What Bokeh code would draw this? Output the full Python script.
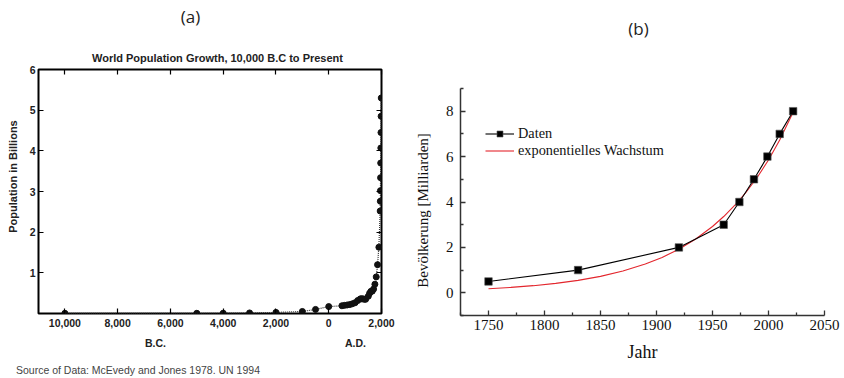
from bokeh.plotting import figure
from bokeh.models import Range1d, FixedTicker, LinearAxis, Legend, LegendItem
from bokeh.layouts import row, column
from bokeh.embed import file_html
from bokeh.resources import INLINE

# ---------------- data: panel (a) ----------------
years_a = [-10000, -5000, -4000, -3000, -2000, -1000, -500, 0,
           500, 600, 700, 800, 900, 1000, 1100, 1200, 1250, 1300, 1350,
           1400, 1500, 1550, 1600, 1650, 1700, 1750, 1800, 1850, 1900,
           1950, 1955, 1960, 1965, 1970, 1975, 1980, 1985, 1990]
pop_a = [0.004, 0.005, 0.007, 0.014, 0.027, 0.05, 0.1, 0.17,
         0.19, 0.2, 0.21, 0.22, 0.24, 0.265, 0.32, 0.36, 0.36, 0.36, 0.35,
         0.35, 0.425, 0.5, 0.545, 0.55, 0.6, 0.72, 0.9, 1.2, 1.63,
         2.52, 2.76, 3.02, 3.34, 3.7, 4.07, 4.45, 4.85, 5.3]
xticks_a = [-10000, -8000, -6000, -4000, -2000, 0, 2000]
xtick_labels_a = ["10,000", "8,000", "6,000", "4,000", "2,000", "0", "2,000"]
yticks_a = [1, 2, 3, 4, 5, 6]
era_pos_a = [-6566, 1014]
era_labels_a = ["B.C.", "A.D."]

# ---------------- data: panel (b) ----------------
years_b = [1750, 1830, 1920, 1960, 1974, 1987, 1999, 2010, 2022]
pop_b = [0.5, 1, 2, 3, 4, 5, 6, 7, 8]
fit_years = [1750, 1770, 1790, 1810, 1830, 1850, 1870, 1890, 1905, 1920,
             1935, 1950, 1960, 1970, 1980, 1990, 2000, 2010, 2022]
fit_pop = [0.18, 0.238, 0.314, 0.415, 0.548, 0.725, 0.958, 1.265, 1.56, 1.92,
           2.37, 2.92, 3.36, 3.86, 4.43, 5.09, 5.85, 6.73, 7.95]
xticks_b = [1750, 1800, 1850, 1900, 1950, 2000, 2050]
xminor_b = [1725, 1775, 1825, 1875, 1925, 1975, 2025]
yticks_b = [0, 2, 4, 6, 8]
yminor_b = [-1, 1, 3, 5, 7, 9]

H = 378
SANS = "Liberation Sans"
SERIF = "Liberation Serif"


def text_axis(p, side, pos, texts, font, size, style, color, standoff, vertical=False):
    """A tick-less axis that only carries texts at data positions."""
    ax = LinearAxis(ticker=FixedTicker(ticks=list(pos), minor_ticks=[]),
                    major_label_overrides=dict(zip(pos, texts)),
                    axis_line_color=None, major_tick_line_color=None,
                    minor_tick_line_color=None, major_tick_in=0, major_tick_out=0,
                    major_label_standoff=standoff, major_label_text_font=font,
                    major_label_text_font_size=size, major_label_text_font_style=style,
                    major_label_text_color=color)
    if vertical:
        ax.major_label_orientation = "vertical"
    p.add_layout(ax, side)


# ================= panel (a) =================
p1 = figure(width=412, height=H, x_range=Range1d(-11000, 2000), y_range=Range1d(0, 6),
            output_backend="svg", toolbar_location=None, title=None,
            min_border_left=38, min_border_right=31, min_border_top=69, min_border_bottom=65)
p1.grid.visible = False
p1.outline_line_color = "black"
p1.outline_line_width = 2


def style_a(ax, ticks, labels=True):
    ax.ticker = FixedTicker(ticks=ticks, minor_ticks=[])
    ax.axis_line_color = None
    ax.major_tick_in = 5
    ax.major_tick_out = 0
    ax.major_tick_line_color = "black"
    ax.major_tick_line_width = 1.2
    ax.minor_tick_line_color = None
    ax.major_label_text_font = SANS
    ax.major_label_text_font_style = "bold"
    if labels:
        ax.major_label_text_font_size = "10.5px"
        ax.major_label_text_color = "#222"
        ax.major_label_standoff = 5
    else:
        ax.major_label_text_font_size = "1px"
        ax.major_label_text_color = None
        ax.major_label_standoff = 0


style_a(p1.xaxis[0], xticks_a)
p1.xaxis[0].major_label_overrides = {t: l for t, l in zip(xticks_a, xtick_labels_a)}
style_a(p1.yaxis[0], yticks_a)
p1.yaxis[0].major_label_standoff = 3

top_ax = LinearAxis()
style_a(top_ax, xticks_a, labels=False)
p1.add_layout(top_ax, "above")
right_ax = LinearAxis()
style_a(right_ax, yticks_a[:5], labels=False)
p1.add_layout(right_ax, "right")

p1.line(years_a, pop_a, line_color="#333", line_width=1.2, line_dash="1 1")
p1.scatter(years_a, pop_a, size=6, marker="circle", fill_color="#111", line_color="#111")

# texts around panel (a), carried by tick-less axes
text_axis(p1, "above", [-4216], ["World Population Growth, 10,000 B.C to Present"],
          SANS, "11px", "bold", "#222", 6)
text_axis(p1, "above", [-5239], ["(a)"], "Open Sans", "17px", "normal", "#222", 21)
text_axis(p1, "left", [3.369], ["Population in Billions"], SANS, "11px", "bold", "#222", 7,
          vertical=True)
text_axis(p1, "below", era_pos_a, era_labels_a, SANS, "10.5px", "bold", "#222", 7)
text_axis(p1, "below", [-7229], ["Source of Data: McEvedy and Jones 1978. UN 1994"],
          SANS, "10.5px", "normal", "#444", 12)

# ================= panel (b) =================
p2 = figure(width=432, height=H, x_range=Range1d(1725, 2050), y_range=Range1d(-1, 9),
            output_backend="svg", toolbar_location=None, title=None,
            min_border_left=48, min_border_right=20, min_border_top=88, min_border_bottom=63)
p2.grid.visible = False
p2.outline_line_color = None


def style_b(ax, ticks, minor):
    ax.ticker = FixedTicker(ticks=ticks, minor_ticks=minor)
    ax.axis_line_color = "#333"
    ax.axis_line_width = 1.5
    ax.major_tick_in = 5
    ax.major_tick_out = 0
    ax.minor_tick_in = 3
    ax.minor_tick_out = 0
    ax.major_tick_line_color = "#333"
    ax.minor_tick_line_color = "#333"
    ax.major_tick_line_width = 1.3
    ax.minor_tick_line_width = 1.3
    ax.major_label_text_font = SERIF
    ax.major_label_text_font_size = "15px"
    ax.major_label_text_color = "#111"
    ax.axis_label_text_font = SERIF
    ax.axis_label_text_font_style = "normal"
    ax.axis_label_text_color = "#111"


style_b(p2.xaxis[0], xticks_b, xminor_b)
p2.xaxis[0].major_label_standoff = 4
p2.xaxis[0].axis_label = "Jahr"
p2.xaxis[0].axis_label_text_font_size = "18px"
p2.xaxis[0].axis_label_standoff = 9
style_b(p2.yaxis[0], yticks_b, yminor_b)
p2.yaxis[0].major_label_standoff = 7

fit_r = p2.line(fit_years, fit_pop, line_color="#e3262d", line_width=1.1)
dl = p2.line(years_b, pop_b, line_color="black", line_width=1.1)
ds = p2.scatter(years_b, pop_b, marker="square", size=7.5, fill_color="black",
                line_color="#555", line_width=0.6)

legend = Legend(items=[LegendItem(label="Daten", renderers=[dl, ds]),
                       LegendItem(label="exponentielles Wachstum", renderers=[fit_r])],
                location=(25, 156), orientation="vertical",
                glyph_width=29, glyph_height=15, label_height=15, label_standoff=4,
                spacing=0, padding=0, margin=0,
                label_text_font=SERIF, label_text_font_size="14.3px",
                label_text_color="#111", background_fill_alpha=0,
                border_line_color=None)
p2.add_layout(legend)

text_axis(p2, "above", [1883.9], ["(b)"], "Open Sans", "17px", "normal", "#222", 49)
text_axis(p2, "left", [3.626], ["Bevölkerung [Milliarden]"], SERIF, "15px", "normal", "#111",
          11, vertical=True)

layout = row(column(p1), column(p2))
open("out.html", "w").write(file_html(layout, INLINE))
